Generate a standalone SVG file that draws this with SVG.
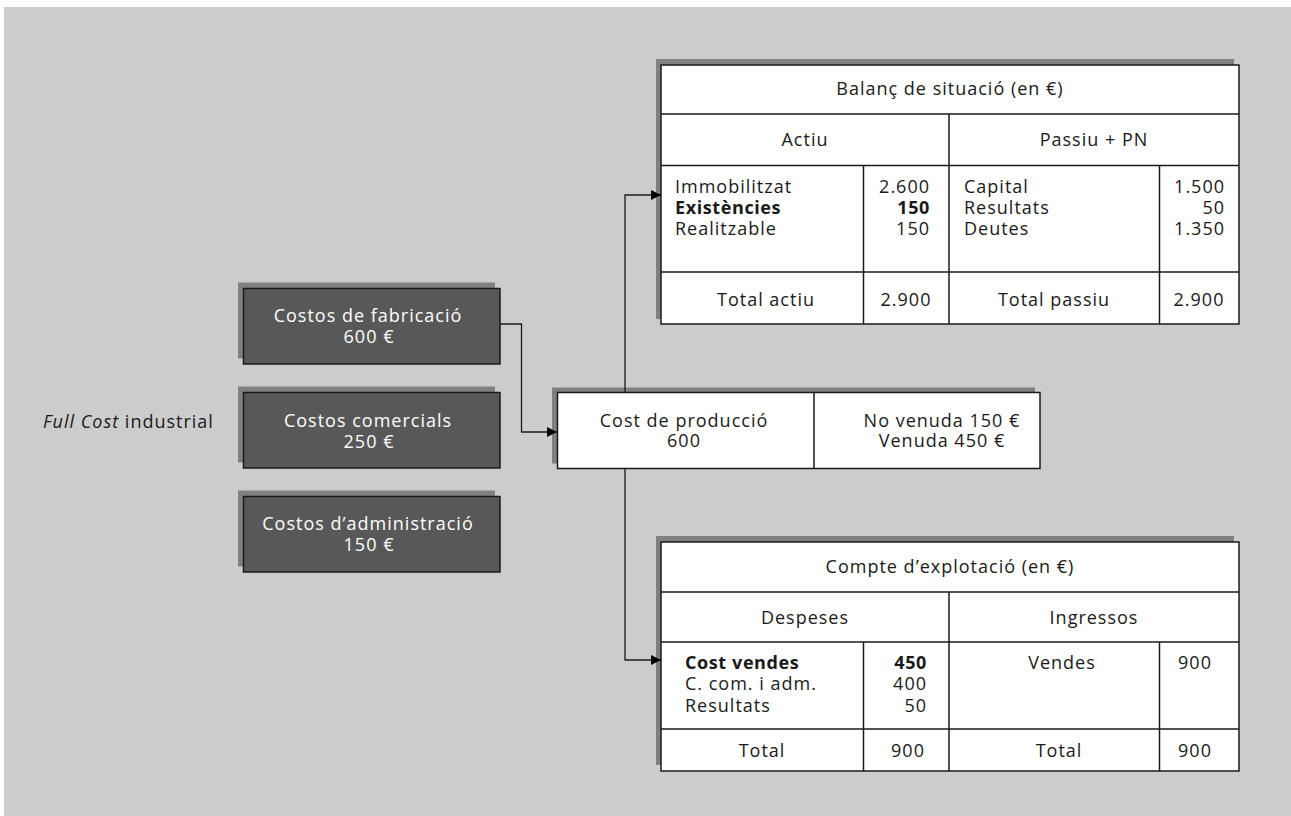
<svg xmlns="http://www.w3.org/2000/svg" width="1291" height="816" viewBox="0 0 1291 816">
<defs>
<style>
text{font-family:"Open Sans","Noto Sans","DejaVu Sans",sans-serif;font-size:18px;letter-spacing:1px;fill:#1a1a1a}
.w{fill:#ffffff}
.m{text-anchor:middle}
.e{text-anchor:end}
.b{font-weight:bold;letter-spacing:0.6px}
.sh{fill:#808080}
.cell{fill:#ffffff;stroke:#1a1a1a;stroke-width:1.5}
.dk{fill:#585858;stroke:#1a1a1a;stroke-width:1.5}
.ln{stroke:#1a1a1a;stroke-width:1.5;fill:none}
.cn{stroke:#1a1a1a;stroke-width:1.3;fill:none;marker-end:url(#ah)}
</style>
<marker id="ah" markerUnits="userSpaceOnUse" markerWidth="10" markerHeight="10" refX="10" refY="5" orient="auto">
<path d="M0,0 L10,5 L0,10 z" fill="#000"/>
</marker>
</defs>
<rect x="0" y="0" width="1291" height="816" fill="#ffffff"/>
<rect x="4" y="7" width="1287" height="809" fill="#cccccc"/>

<g id="label-fullcost">
<text x="43" y="428"><tspan font-style="italic">Full Cost</tspan> industrial</text>
</g>

<g id="costos-fabricacio">
<rect class="sh" x="238" y="282.5" width="257" height="76"/>
<rect class="dk" x="243.5" y="288.5" width="256.5" height="75.5"/>
<text class="w m" x="368" y="322">Costos de fabricació<tspan x="369" dy="21">600 €</tspan></text>
</g>

<g id="costos-comercials">
<rect class="sh" x="238" y="386.5" width="257" height="76"/>
<rect class="dk" x="243.5" y="392.5" width="256.5" height="75.5"/>
<text class="w m" x="368" y="426.5">Costos comercials<tspan x="369" dy="21">250 €</tspan></text>
</g>

<g id="costos-administracio">
<rect class="sh" x="238" y="490.5" width="257" height="76"/>
<rect class="dk" x="243.5" y="496.5" width="256.5" height="75.5"/>
<text class="w m" x="368" y="530">Costos d’administració<tspan x="369" dy="21">150 €</tspan></text>
</g>

<g id="cost-produccio">
<rect class="sh" x="552" y="387.5" width="483" height="76"/>
<rect class="cell" x="557.5" y="392.5" width="482.5" height="76"/>
<line class="ln" x1="814" y1="392.5" x2="814" y2="468.5"/>
<text class="m" x="684" y="427">Cost de producció<tspan x="684" dy="20">600</tspan></text>
<text class="m" x="942" y="427">No venuda 150 €<tspan x="942" dy="20">Venuda 450 €</tspan></text>
</g>

<g id="balanc-situacio">
<rect class="sh" x="656" y="59" width="578" height="260"/>
<rect class="cell" x="661" y="65" width="578" height="259"/>
<line class="ln" x1="661" y1="114" x2="1239" y2="114"/>
<line class="ln" x1="661" y1="165.5" x2="1239" y2="165.5"/>
<line class="ln" x1="661" y1="272" x2="1239" y2="272"/>
<line class="ln" x1="949" y1="114" x2="949" y2="324"/>
<line class="ln" x1="863.5" y1="165.5" x2="863.5" y2="324"/>
<line class="ln" x1="1159.5" y1="165.5" x2="1159.5" y2="324"/>
<text class="m" x="950" y="95">Balanç de situació (en €)</text>
<text class="m" x="805" y="146">Actiu</text>
<text class="m" x="1094" y="146">Passiu + PN</text>
<text x="675" y="193">Immobilitzat<tspan class="b" x="675" dy="21">Existències</tspan><tspan x="675" dy="21">Realitzable</tspan></text>
<text class="e" x="930" y="193">2.600<tspan class="b" x="930" dy="21">150</tspan><tspan x="930" dy="21">150</tspan></text>
<text x="964" y="193">Capital<tspan x="964" dy="21">Resultats</tspan><tspan x="964" dy="21">Deutes</tspan></text>
<text class="e" x="1225" y="193">1.500<tspan x="1225" dy="21">50</tspan><tspan x="1225" dy="21">1.350</tspan></text>
<text class="m" x="766" y="306">Total actiu</text>
<text class="m" x="906" y="306">2.900</text>
<text class="m" x="1054" y="306">Total passiu</text>
<text class="m" x="1199" y="306">2.900</text>
</g>

<g id="compte-explotacio">
<rect class="sh" x="656" y="536" width="578" height="229"/>
<rect class="cell" x="661" y="542" width="578" height="229"/>
<line class="ln" x1="661" y1="592" x2="1239" y2="592"/>
<line class="ln" x1="661" y1="642" x2="1239" y2="642"/>
<line class="ln" x1="661" y1="729" x2="1239" y2="729"/>
<line class="ln" x1="949" y1="592" x2="949" y2="771"/>
<line class="ln" x1="863.5" y1="642" x2="863.5" y2="771"/>
<line class="ln" x1="1159.5" y1="642" x2="1159.5" y2="771"/>
<text class="m" x="950" y="573">Compte d’explotació (en €)</text>
<text class="m" x="805" y="623.5">Despeses</text>
<text class="m" x="1094" y="623.5">Ingressos</text>
<text x="685" y="668.5"><tspan class="b">Cost vendes</tspan><tspan x="685" dy="21.5">C. com. i adm.</tspan><tspan x="685" dy="21.5">Resultats</tspan></text>
<text class="e" x="927" y="668.5"><tspan class="b">450</tspan><tspan x="927" dy="21.5">400</tspan><tspan x="927" dy="21.5">50</tspan></text>
<text class="m" x="1062" y="668.5">Vendes</text>
<text class="m" x="1195" y="668.5">900</text>
<text class="m" x="762" y="757">Total</text>
<text class="m" x="908" y="757">900</text>
<text class="m" x="1059" y="757">Total</text>
<text class="m" x="1195" y="757">900</text>
</g>

<g id="connectors">
<path class="cn" d="M500,324 H521.5 V432 H557"/>
<path class="cn" d="M625,392.5 V195 H661"/>
<path class="cn" d="M625,468.5 V660 H661"/>
</g>
</svg>
